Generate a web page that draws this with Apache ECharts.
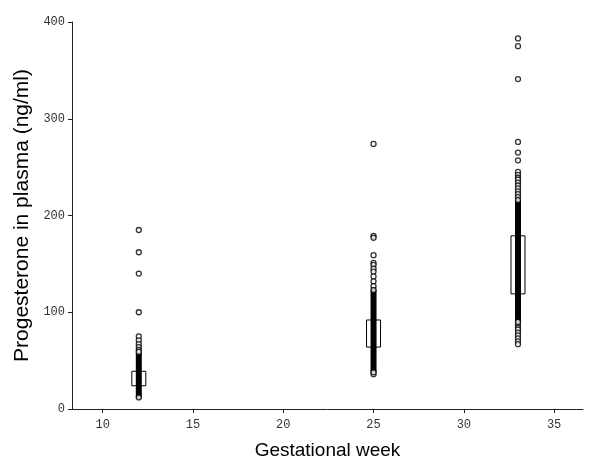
<!DOCTYPE html>
<html>
<head>
<meta charset="utf-8">
<script src="https://cdn.jsdelivr.net/npm/echarts@6/dist/echarts.min.js"></script>
<style>html,body{margin:0;padding:0;background:#fff}#c{width:600px;height:468px}</style>
</head>
<body>
<div id="c"></div>
<script>
// Data
const weeks = [12, 25, 33];
const boxLow = [24, 64, 119];
const boxHigh = [39, 92, 179];
const denseLow = [12, 38, 90];
const denseHigh = [59, 123, 216];
const outliers12 = [185, 162, 140, 100, 75, 71, 67, 64, 61];
const outliers25 = [274, 179, 177, 159, 151, 149, 145, 142, 137, 132, 127, 36];
const outliers33 = [383, 375, 341, 276, 265, 257, 245, 242, 239, 237, 234, 231, 228, 225, 222, 219, 87, 84, 82, 79, 76, 73, 70, 67];
const xTicks = [10, 15, 20, 25, 30, 35];
const yTicks = [0, 100, 200, 300, 400];

const boxData = weeks.map((w, i) => [w, boxLow[i], boxHigh[i]]);
const denseData = weeks.map((w, i) => [w, denseLow[i], denseHigh[i]]);
const pts = [];
[outliers12, outliers25, outliers33].forEach((arr, i) => arr.forEach(v => pts.push([weeks[i], v])));
weeks.forEach((w, i) => { pts.push([w, denseLow[i]]); pts.push([w, denseHigh[i]]); });

const tickFont = { fontFamily: 'Liberation Mono', fontSize: 12, color: '#333' };

const chart = echarts.init(document.getElementById('c'), null, { renderer: 'canvas' });
chart.setOption({
  animation: false,
  backgroundColor: '#fff',
  grid: { left: 72, right: 17, top: 22, bottom: 59 },
  xAxis: {
    type: 'value', min: 8.3, max: 36.6,
    name: 'Gestational week', nameLocation: 'middle', nameGap: 32,
    nameTextStyle: { fontFamily: 'Liberation Sans', fontSize: 19, color: '#000' },
    axisLine: { lineStyle: { color: '#222', width: 1 } },
    axisTick: { show: true, length: 4, inside: false, customValues: xTicks, lineStyle: { color: '#222' } },
    axisLabel: Object.assign({ customValues: xTicks, margin: 10 }, tickFont),
    splitLine: { show: false }
  },
  yAxis: {
    type: 'value', min: 0, max: 400, interval: 100,
    name: 'Progesterone in plasma (ng/ml)', nameLocation: 'middle', nameGap: 38,
    nameTextStyle: { fontFamily: 'Liberation Sans', fontSize: 21, color: '#000' },
    axisLine: { show: true, lineStyle: { color: '#222', width: 1 } },
    axisTick: { show: true, length: 4, lineStyle: { color: '#222' } },
    axisLabel: Object.assign({ margin: 7 }, tickFont),
    splitLine: { show: false }
  },
  series: [
    {
      type: 'custom', z: 1, data: boxData,
      renderItem: function (params, api) {
        const top = api.coord([api.value(0), api.value(2)]);
        const bot = api.coord([api.value(0), api.value(1)]);
        return { type: 'rect', shape: { x: top[0] - 7, y: top[1], width: 14, height: bot[1] - top[1] },
          style: { fill: '#fff', stroke: '#000', lineWidth: 1 } };
      }
    },
    {
      type: 'custom', z: 2, data: denseData,
      renderItem: function (params, api) {
        const top = api.coord([api.value(0), api.value(2)]);
        const bot = api.coord([api.value(0), api.value(1)]);
        return { type: 'rect', shape: { x: top[0] - 3, y: top[1] - 2, width: 6, height: bot[1] - top[1] + 4, r: 3 },
          style: { fill: '#000' } };
      }
    },
    {
      type: 'scatter', z: 3, data: pts, symbol: 'circle', symbolSize: 5,
      itemStyle: { color: '#fff', borderColor: '#000', borderWidth: 1.3 }
    }
  ]
});
</script>
</body>
</html>
